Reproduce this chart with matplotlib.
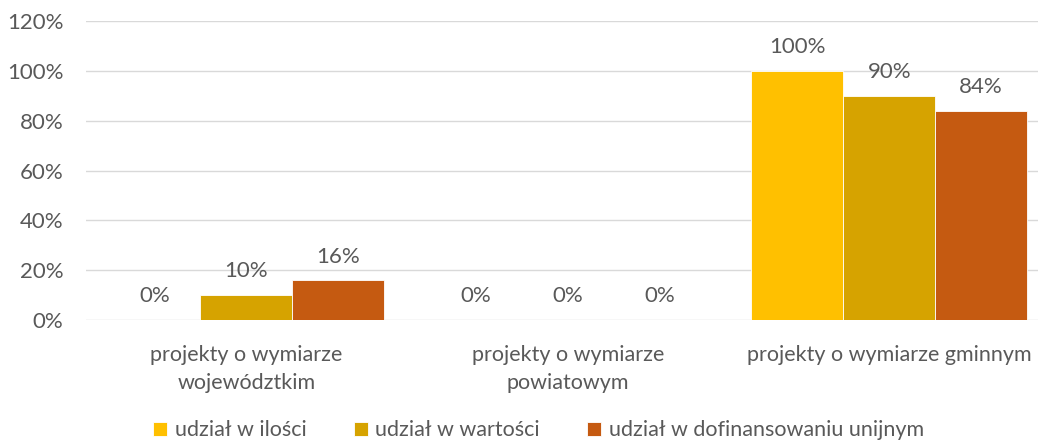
import numpy as np
import matplotlib.pyplot as plt
from matplotlib.ticker import PercentFormatter

plt.rcParams['font.family'] = ['Lato', 'DejaVu Sans']

categories = ["projekty o wymiarze\nwojewództkim", "projekty o wymiarze\npowiatowym",
              "projekty o wymiarze gminnym"]
series_names = ["udział w ilości", "udział w wartości", "udział w dofinansowaniu unijnym"]
ilosc = [0, 0, 100]
wartosc = [10, 0, 90]
dofinansowanie = [16, 0, 84]
colors = ["#FFC000", "#D6A300", "#C55A11"]

text_color = "#595959"
fig = plt.figure(figsize=(10.38, 4.43), dpi=100)
ax = fig.add_axes([0.0825, 0.2777, 0.929, 0.6745])

x = np.arange(len(categories))
width = 0.286
for i, (vals, name, col) in enumerate(zip([ilosc, wartosc, dofinansowanie], series_names, colors)):
    pos = x + (i - 1) * width
    ax.bar(pos, vals, width, color=col, label=name, edgecolor="white", linewidth=0.6, zorder=3)
    for px, v in zip(pos, vals):
        ax.annotate(f"{v}%", (px, v), xytext=(0, 17), textcoords="offset points",
                    ha="center", va="center", fontsize=16, color=text_color)

ax.set_xlim(-0.5, 2.5)
ax.set_ylim(0, 120)
ax.set_yticks(range(0, 121, 20))
ax.yaxis.set_major_formatter(PercentFormatter(decimals=0))
ax.grid(axis="y", color="#D9D9D9", linewidth=1, zorder=0)
for s in ax.spines.values():
    s.set_visible(False)
ax.tick_params(axis="y", length=0, labelsize=16, labelcolor=text_color, pad=16)
ax.set_xticks(x)
ax.set_xticklabels(categories, linespacing=1.5)
ax.tick_params(axis="x", length=0, labelsize=15.5, labelcolor=text_color, pad=18)

fig.legend(loc="lower left", bbox_to_anchor=(0.129, -0.038), ncol=3, frameon=False,
           fontsize=15.5, labelcolor=text_color, handlelength=0.65, handleheight=0.65,
           handletextpad=0.35, columnspacing=2.2)

fig.savefig("out.png", dpi=100)
